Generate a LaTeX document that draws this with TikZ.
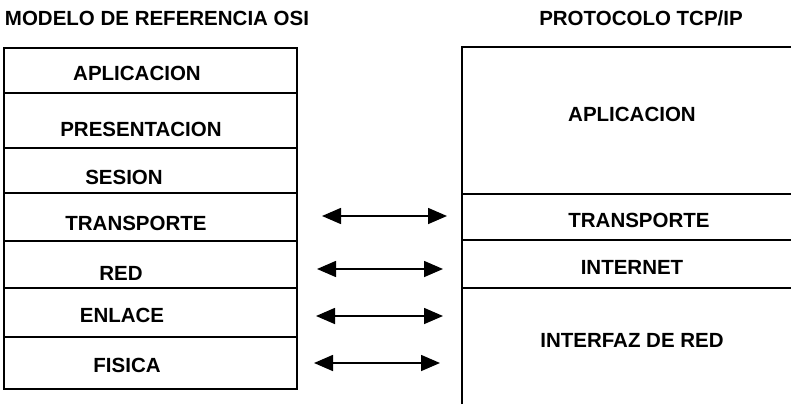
\documentclass[tikz,border=0pt]{standalone}
\usepackage{fontspec}
\setmainfont{Liberation Sans}
\usetikzlibrary{arrows.meta}
\begin{document}
\begin{tikzpicture}[x=1pt,y=-1pt,
  box/.style={line width=1.7pt},
  lbl/.style={font=\bfseries\fontsize{20.5}{21}\selectfont, inner sep=0pt,
              text height=14.5pt, text depth=0pt, anchor=center},
  link/.style={line width=1.6pt,
               {Triangle[length=19pt,width=16pt]}-{Triangle[length=19pt,width=16pt]}}]
\useasboundingbox (0,0) rectangle (791,404);

% Titles
\node[lbl] (tosi) at (157,18) {MODELO DE REFERENCIA OSI};
\node[lbl] (ttcp) at (641,18) {PROTOCOLO TCP/IP};

% OSI stack
\draw[box] (4,48) rectangle (297,389);
\foreach \yy in {93,148,193,241,288,337}
  \draw[box] (4,\yy) -- (297,\yy);
\node[lbl] (oapl) at (137,73)  {APLICACION};
\node[lbl] (opre) at (141,129) {PRESENTACION};
\node[lbl] (oses) at (124,177) {SESION};
\node[lbl] (otra) at (136,223) {TRANSPORTE};
\node[lbl] (ored) at (121,273) {RED};
\node[lbl] (oenl) at (122,315) {ENLACE};
\node[lbl] (ofis) at (127,365) {FISICA};

% TCP/IP stack (runs off the right and bottom edges)
\draw[box] (462,404) -- (462,47) -- (795,47);
\foreach \yy in {194,240,288}
  \draw[box] (462,\yy) -- (795,\yy);
\node[lbl] (tapl) at (632,114) {APLICACION};
\node[lbl] (ttra) at (639,220) {TRANSPORTE};
\node[lbl] (tint) at (632,267) {INTERNET};
\node[lbl] (tifz) at (632,340) {INTERFAZ DE RED};

% Correspondence arrows
\coordinate (a1l) at (322,216); \coordinate (a1r) at (447,216);
\coordinate (a2l) at (317,269); \coordinate (a2r) at (443,269);
\coordinate (a3l) at (316,316); \coordinate (a3r) at (443,316);
\coordinate (a4l) at (314,363); \coordinate (a4r) at (440,363);
\draw[link] (a1l) -- (a1r);
\draw[link] (a2l) -- (a2r);
\draw[link] (a3l) -- (a3r);
\draw[link] (a4l) -- (a4r);
\end{tikzpicture}
\end{document}
